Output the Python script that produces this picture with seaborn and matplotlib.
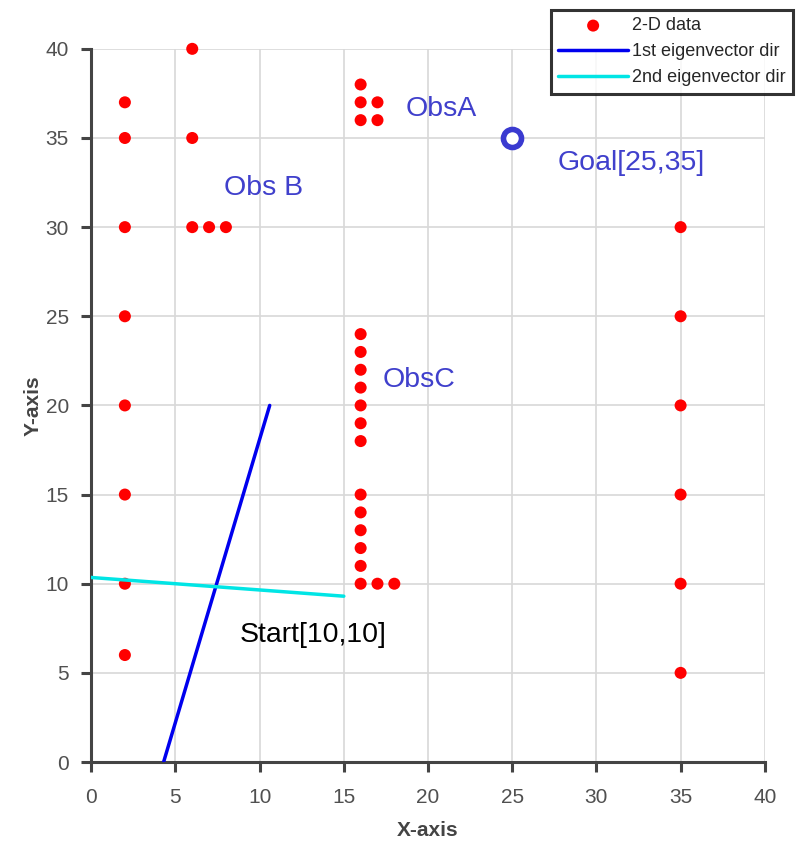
import matplotlib
matplotlib.use("Agg")
import matplotlib.pyplot as plt
import seaborn as sns
import pandas as pd

# Obstacle sample points (x, y)
pts_x = [2, 2, 2, 2, 2, 2, 2, 2,
         6, 6, 6, 7, 8,
         16, 16, 16, 17, 17,
         16, 16, 16, 16, 16, 16, 16,
         16, 16, 16, 16, 16, 16, 17, 18,
         35, 35, 35, 35, 35, 35]
pts_y = [37, 35, 30, 25, 20, 15, 10, 6,
         40, 35, 30, 30, 30,
         38, 37, 36, 37, 36,
         24, 23, 22, 21, 20, 19, 18,
         15, 14, 13, 12, 11, 10, 10, 10,
         30, 25, 20, 15, 10, 5]

# Principal direction segments
eig1_x = [4.3, 10.6]
eig1_y = [0.0, 20.0]
eig2_x = [0.0, 15.0]
eig2_y = [10.35, 9.3]

goal = (25, 35)
start = (10, 10)

x_ticks = [0, 5, 10, 15, 20, 25, 30, 35, 40]
y_ticks = [0, 5, 10, 15, 20, 25, 30, 35, 40]

sns.set_theme(style="white")
plt.rcParams["font.family"] = ["Liberation Sans", "DejaVu Sans"]

fig = plt.figure(figsize=(8, 8.42), dpi=100)
ax = fig.add_axes([0.114, 0.095, 0.842, 0.847])

df = pd.DataFrame({"x": pts_x, "y": pts_y})
sns.scatterplot(data=df, x="x", y="y", ax=ax, color="#ff0000", s=75,
                edgecolor="none", label="2-D data", zorder=3, clip_on=False)
sns.lineplot(x=eig1_x, y=eig1_y, ax=ax, color="#0000ee", lw=2.5,
             label="1st eigenvector dir", sort=False, zorder=4)
sns.lineplot(x=eig2_x, y=eig2_y, ax=ax, color="#00e5e5", lw=2.5,
             label="2nd eigenvector dir", sort=False, zorder=4)

ax.plot([goal[0]], [goal[1]], marker="o", ms=13, mfc="white",
        mec="#3a3ad0", mew=4, zorder=5)

tc = "#4040cc"
fs = 20.5
ax.text(18.7, 36.6, "ObsA", color=tc, fontsize=fs, va="center")
ax.text(7.9, 32.2, "Obs B", color=tc, fontsize=fs, va="center")
ax.text(17.3, 21.4, "ObsC", color=tc, fontsize=fs, va="center")
ax.text(27.7, 33.6, "Goal[25,35]", color=tc, fontsize=fs, va="center")
ax.text(8.8, 7.1, "Start[10,10]", color="black", fontsize=fs, va="center")

ax.set_xlim(0, 40)
ax.set_ylim(0, 40)
ax.set_xticks(x_ticks)
ax.set_yticks(y_ticks)
ax.grid(True, color="#d8d8d8", lw=1.2)
ax.set_axisbelow(True)
for s in ["top", "right"]:
    ax.spines[s].set_visible(False)
for s in ["left", "bottom"]:
    ax.spines[s].set_color("#444444")
    ax.spines[s].set_linewidth(2.2)
ax.tick_params(axis="both", direction="out", length=7, width=2.2,
               color="#444444", labelcolor="#505050", labelsize=15,
               left=True, bottom=True)
ax.tick_params(axis="y", pad=9)
ax.tick_params(axis="x", pad=12)
ax.set_xlabel("X-axis", fontsize=15, fontweight="bold", color="#444444",
              labelpad=10)
ax.set_ylabel("Y-axis", fontsize=15, fontweight="bold", color="#444444",
              labelpad=2)

leg = ax.legend(loc="upper right", bbox_to_anchor=(0.991, 0.988),
                bbox_transform=fig.transFigure, frameon=True, fancybox=False,
                fontsize=13, borderpad=0.4, labelspacing=0.5,
                handlelength=3.9, handletextpad=0.2, borderaxespad=0)
leg.get_frame().set_edgecolor("black")
leg.get_frame().set_linewidth(2.2)

fig.savefig("out.png", dpi=100)
